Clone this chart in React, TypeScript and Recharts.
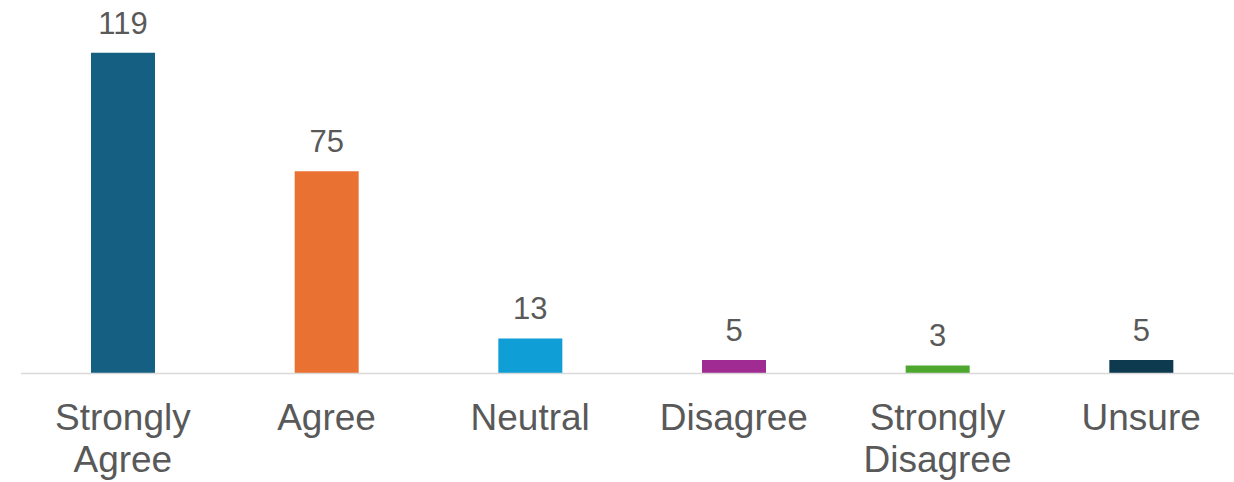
import React from "react";
import { BarChart, Bar, XAxis, YAxis, Cell, LabelList } from "recharts";

const categories = ["Strongly Agree", "Agree", "Neutral", "Disagree", "Strongly Disagree", "Unsure"];
const counts = [119, 75, 13, 5, 3, 5];
const colors = ["#156082", "#E97132", "#0F9ED5", "#A02B93", "#4EA72E", "#0E3A50"];

const data = categories.map((c, i) => ({ name: c, value: counts[i] }));

const FONT = "Arial, 'Liberation Sans', sans-serif";

const Tick = (props: any) => {
  const { x, y, payload } = props;
  const words: string[] = String(payload.value).split(" ");
  return (
    <text x={x} y={y} textAnchor="middle" fill="#595959" fontSize={37} fontFamily={FONT}>
      {words.map((w, i) => (
        <tspan key={i} x={x} y={y + 48 + i * 42}>
          {w}
        </tspan>
      ))}
    </text>
  );
};

export default function App() {
  return (
    <div style={{ position: "absolute", left: 0, top: 0, width: 1234, height: 482, overflow: "hidden", background: "#fff" }}>
      <BarChart
        width={1243}
        height={482}
        data={data}
        margin={{ top: 50, right: 0, bottom: 0, left: 21 }}
      >
        <YAxis hide domain={[0, 120]} />
        <XAxis
          dataKey="name"
          height={108.5}
          tickLine={false}
          axisLine={{ stroke: "#d9d9d9", strokeWidth: 1.5 }}
          tick={<Tick />}
          interval={0}
        />
        <Bar dataKey="value" barSize={64} isAnimationActive={false}>
          {data.map((d, i) => (
            <Cell key={d.name} fill={colors[i]} />
          ))}
          <LabelList
            dataKey="value"
            position="top"
            offset={19}
            fill="#595959"
            fontSize={31}
            fontFamily={FONT}
          />
        </Bar>
      </BarChart>
    </div>
  );
}
